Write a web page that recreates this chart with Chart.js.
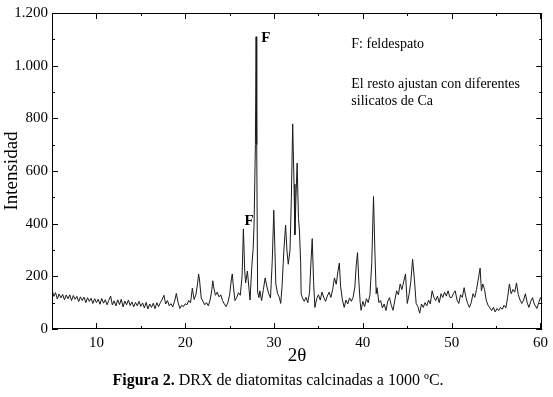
<!DOCTYPE html>
<html>
<head>
<meta charset="utf-8">
<script src="https://cdn.jsdelivr.net/npm/chart.js@4"></script>
<style>
  html, body { margin: 0; padding: 0; background: #fff; }
  canvas { display: block; }
</style>
</head>
<body>
<canvas id="drx" width="553" height="397"></canvas>
<script>
"use strict";

/* DRX data: 2theta (deg) / intensity */
var twoTheta = [
  5.0, 5.2, 5.4, 5.6, 5.8, 6.0, 6.2, 6.4, 6.6, 6.8, 7.0, 7.2, 7.4, 7.6, 7.8, 8.0, 8.2, 8.4, 8.6, 8.8,
  9.0, 9.2, 9.4, 9.6, 9.8, 10.0, 10.2, 10.4, 10.6, 10.8, 11.0, 11.2, 11.4, 11.6, 11.8, 12.0, 12.2, 12.4, 12.6, 12.8,
  13.0, 13.2, 13.4, 13.6, 13.8, 14.0, 14.2, 14.4, 14.6, 14.8, 15.0, 15.2, 15.4, 15.6, 15.8, 16.0, 16.2, 16.4, 16.6, 16.8,
  17.0, 17.2, 17.4, 17.6, 17.8, 18.0, 18.2, 18.4, 18.6, 18.8, 19.0, 19.2, 19.4, 19.6, 19.8, 20.0, 20.2, 20.4, 20.6, 20.8,
  21.0, 21.2, 21.4, 21.5, 21.6, 21.8, 22.0, 22.2, 22.4, 22.6, 22.8, 23.0, 23.1, 23.2, 23.4, 23.6, 23.8, 24.0, 24.2, 24.4,
  24.6, 24.8, 25.0, 25.2, 25.3, 25.4, 25.6, 25.8, 26.0, 26.2, 26.4, 26.55, 26.7, 26.8, 27.0, 27.2, 27.3, 27.5, 27.65, 27.75,
  27.9, 27.98, 28.05, 28.15, 28.3, 28.4, 28.6, 28.8, 29.0, 29.2, 29.4, 29.6, 29.8, 29.97, 30.1, 30.2, 30.4, 30.6, 30.75, 30.9,
  31.1, 31.3, 31.45, 31.6, 31.8, 31.95, 32.1, 32.25, 32.35, 32.45, 32.6, 32.75, 32.85, 33.0, 33.05, 33.2, 33.4, 33.6, 33.8, 34.0,
  34.15, 34.3, 34.45, 34.6, 34.8, 35.0, 35.2, 35.4, 35.6, 35.8, 36.0, 36.2, 36.4, 36.6, 36.8, 37.0, 37.2, 37.35, 37.5, 37.7,
  37.9, 38.1, 38.3, 38.5, 38.7, 38.9, 39.1, 39.25, 39.4, 39.55, 39.7, 39.8, 40.0, 40.2, 40.4, 40.6, 40.8, 41.0, 41.2, 41.35,
  41.5, 41.6, 41.8, 42.0, 42.2, 42.4, 42.6, 42.8, 43.0, 43.2, 43.4, 43.6, 43.8, 44.0, 44.2, 44.4, 44.6, 44.8, 45.0, 45.2,
  45.4, 45.6, 45.8, 46.0, 46.2, 46.4, 46.6, 46.8, 47.0, 47.2, 47.4, 47.6, 47.8, 48.0, 48.2, 48.4, 48.6, 48.8, 49.0, 49.2,
  49.4, 49.6, 49.8, 50.0, 50.2, 50.4, 50.6, 50.8, 51.0, 51.2, 51.4, 51.6, 51.8, 52.0, 52.2, 52.4, 52.6, 52.8, 53.0, 53.2,
  53.35, 53.5, 53.7, 53.9, 54.1, 54.3, 54.5, 54.7, 54.9, 55.1, 55.3, 55.5, 55.7, 55.9, 56.1, 56.3, 56.5, 56.7, 56.9, 57.1,
  57.3, 57.5, 57.7, 57.9, 58.1, 58.3, 58.5, 58.7, 58.9, 59.1, 59.3, 59.6, 59.8, 60.0, 60.2
];
var intensity = [
  152, 124, 138, 114, 133, 118, 131, 111, 129, 115, 130, 108, 127, 113, 124, 104, 122, 108, 121, 100,
  119, 105, 117, 97, 115, 100, 113, 94, 116, 98, 111, 92, 109, 125, 91, 107, 88, 111, 93, 113,
  84, 106, 92, 110, 89, 103, 84, 101, 88, 105, 86, 99, 80, 101, 76, 95, 82, 98, 77, 100,
  85, 100, 112, 128, 95, 108, 88, 96, 84, 105, 135, 100, 78, 90, 85, 96, 92, 108, 100, 155,
  112, 130, 175, 209, 190, 118, 105, 92, 100, 88, 110, 150, 183, 160, 128, 140, 122, 130, 108, 95,
  85, 100, 130, 190, 209, 170, 108, 120, 138, 128, 200, 380, 220, 175, 220, 145, 110, 240, 306, 395,
  700, 1110, 700, 140, 119, 145, 108, 150, 194, 160, 134, 118, 260, 451, 300, 171, 134, 120, 97, 160,
  294, 395, 300, 246, 300, 500, 779, 550, 358, 480, 630, 420, 380, 250, 134, 118, 105, 120, 100, 140,
  250, 343, 180, 82, 115, 130, 110, 140, 120, 105, 125, 140, 120, 150, 194, 170, 220, 250, 160, 110,
  82, 110, 95, 118, 105, 120, 160, 240, 290, 180, 100, 71, 105, 85, 115, 100, 130, 250, 503, 300,
  134, 157, 100, 108, 80, 95, 70, 105, 119, 90, 71, 110, 145, 130, 171, 150, 180, 209, 97, 130,
  180, 265, 190, 97, 85, 60, 95, 82, 100, 88, 110, 95, 145, 120, 108, 125, 100, 134, 120, 140,
  125, 145, 120, 119, 135, 145, 110, 97, 130, 120, 157, 120, 97, 82, 100, 134, 120, 150, 190, 231,
  145, 171, 150, 108, 90, 80, 70, 82, 65, 78, 70, 82, 75, 90, 80, 120, 171, 134, 150, 140,
  175, 130, 110, 97, 110, 134, 100, 82, 105, 119, 95, 78, 100, 119, 105
];

/* axis ticks */
var xTickLabels = [10, 20, 30, 40, 50, 60];
var xMinorTicks = [5, 15, 25, 35, 45, 55];
var yTickLabels = [0, 200, 400, 600, 800, 1000, 1200];
var yMinorTicks = [100, 300, 500, 700, 900, 1100];

/* text marks on the plot: [2theta, intensity, text] */
var peakMarks = [[26.66, 395, 'F'], [28.55, 1091, 'F']];
var noteLines = [[38.7, 1081, 'F: feldespato'], [38.7, 928, 'El resto ajustan con diferentes'], [38.7, 864, 'silicatos de Ca']];

var serif = "'Liberation Serif', 'Times New Roman', serif";

function thousands(v) {
    return String(v).replace(/\B(?=(\d{3})+(?!\d))/g, '.');
}

/* frame, inward ticks, notes and caption */
var framePlugin = {
    id: 'frame',
    afterDraw: function (chart) {
        var ctx = chart.ctx;
        var a = chart.chartArea;
        var xs = chart.scales.x, ys = chart.scales.y;
        ctx.save();
        ctx.strokeStyle = '#000';
        ctx.lineWidth = 1;
        ctx.strokeRect(Math.round(a.left) + 0.5, Math.round(a.top) + 0.5,
            Math.round(a.right - a.left) - 1, Math.round(a.bottom - a.top) - 1);

        function xTick(v, len) {
            var px = Math.round(xs.getPixelForValue(v)) + 0.5;
            ctx.beginPath();
            ctx.moveTo(px, a.bottom); ctx.lineTo(px, a.bottom - len);
            ctx.moveTo(px, a.top); ctx.lineTo(px, a.top + len);
            ctx.stroke();
        }
        function yTick(v, len) {
            var py = Math.round(ys.getPixelForValue(v)) + 0.5;
            ctx.beginPath();
            ctx.moveTo(a.left, py); ctx.lineTo(a.left + len, py);
            ctx.moveTo(a.right, py); ctx.lineTo(a.right - len, py);
            ctx.stroke();
        }
        xTickLabels.forEach(function (v) { xTick(v, 6); });
        xMinorTicks.forEach(function (v) { xTick(v, 3); });
        yTickLabels.forEach(function (v) { yTick(v, 6); });
        yMinorTicks.forEach(function (v) { yTick(v, 3); });

        ctx.fillStyle = '#000';
        ctx.textBaseline = 'alphabetic';
        ctx.textAlign = 'left';
        ctx.font = 'bold 15px ' + serif;
        peakMarks.forEach(function (m) {
            ctx.fillText(m[2], xs.getPixelForValue(m[0]), ys.getPixelForValue(m[1]));
        });
        ctx.font = '14px ' + serif;
        ctx.textBaseline = 'middle';
        noteLines.forEach(function (m) {
            ctx.fillText(m[2], xs.getPixelForValue(m[0]), ys.getPixelForValue(m[1]));
        });

        /* caption */
        var bold = 'Figura 2.';
        var rest = ' DRX de diatomitas calcinadas a 1000 \u00BAC.';
        ctx.font = 'bold 16px ' + serif;
        var wb = ctx.measureText(bold).width;
        ctx.font = '16px ' + serif;
        var wr = ctx.measureText(rest).width;
        var cx = 278 - (wb + wr) / 2;
        ctx.font = 'bold 16px ' + serif;
        ctx.fillText(bold, cx, 381);
        ctx.font = '16px ' + serif;
        ctx.fillText(rest, cx + wb, 381);
        ctx.restore();
    }
};

document.addEventListener("DOMContentLoaded", function () {
    var points = twoTheta.map(function (t, i) {
        return { x: t, y: intensity[i] };
    });
    var ctx = document.getElementById('drx').getContext('2d');
    var config = {
        type: 'line',
        data: {
            datasets: [{
                data: points,
                borderColor: '#1a1a1a',
                borderWidth: 1,
                pointRadius: 0,
                tension: 0,
                fill: false
            }]
        },
        options: {
            responsive: false,
            animation: false,
            layout: { padding: { left: 0, right: 2, top: 7, bottom: 30 } },
            plugins: {
                legend: { display: false },
                tooltip: { enabled: false }
            },
            scales: {
                x: {
                    type: 'linear',
                    min: 5,
                    max: 60.2,
                    afterFit: function (s) { s.height = 38; },
                    afterBuildTicks: function (s) {
                        s.ticks = xTickLabels.map(function (v) { return { value: v }; });
                    },
                    grid: { display: false, drawTicks: false },
                    border: { display: false },
                    ticks: {
                        padding: 5,
                        color: '#000',
                        maxRotation: 0,
                        autoSkip: false,
                        font: { family: serif, size: 15 }
                    },
                    title: {
                        display: true,
                        text: '2\u03B8',
                        color: '#000',
                        padding: 0,
                        font: { family: serif, size: 19 }
                    }
                },
                y: {
                    min: 0,
                    max: 1200,
                    afterFit: function (s) { s.width = 52; },
                    afterBuildTicks: function (s) {
                        s.ticks = yTickLabels.map(function (v) { return { value: v }; });
                    },
                    grid: { display: false, drawTicks: false },
                    border: { display: false },
                    ticks: {
                        padding: 4,
                        color: '#000',
                        autoSkip: false,
                        font: { family: serif, size: 15 },
                        callback: function (v) { return thousands(v); }
                    },
                    title: {
                        display: true,
                        text: 'Intensidad',
                        color: '#000',
                        padding: 1,
                        font: { family: serif, size: 19 }
                    }
                }
            }
        },
        plugins: [framePlugin]
    };
    new Chart(ctx, config);
});
</script>
</body>
</html>
